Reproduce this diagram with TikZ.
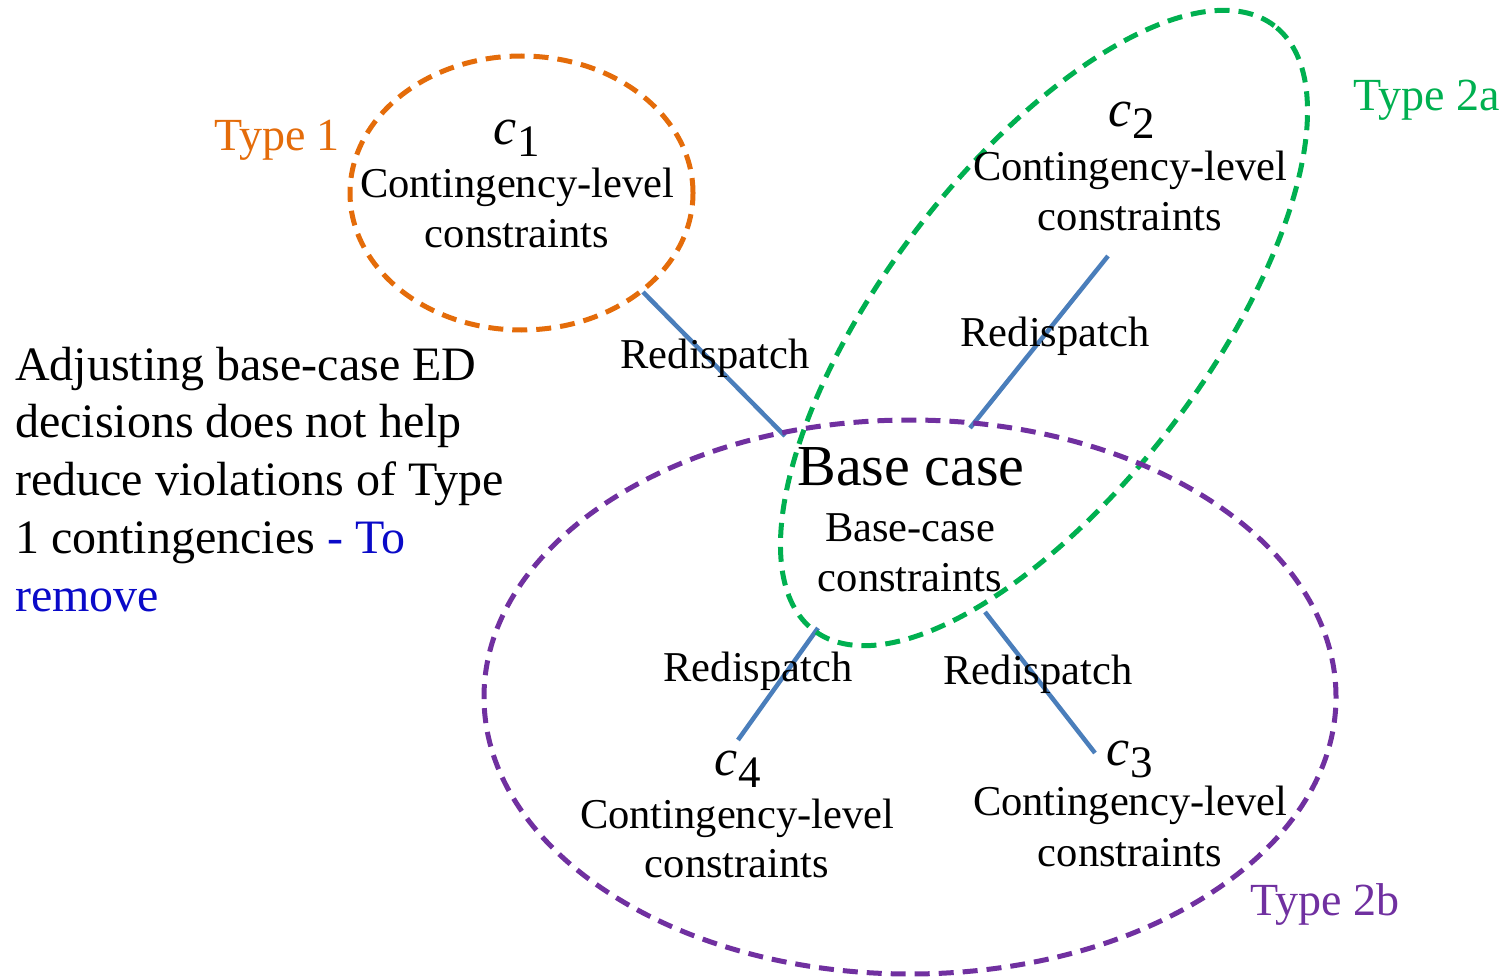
\documentclass[tikz,border=0pt]{standalone}
\usepackage{fontspec}
\setmainfont{Liberation Serif}
\definecolor{orng}{RGB}{228,108,10}
\definecolor{grn}{RGB}{0,176,80}
\definecolor{purp}{RGB}{112,48,160}
\definecolor{lineblue}{RGB}{74,126,187}
\definecolor{txtblue}{RGB}{10,10,200}
\begin{document}
\begin{tikzpicture}[x=1pt,y=-1pt,
  lbl/.style={inner sep=0pt, anchor=base, font=\fontsize{42.5}{50}\selectfont},
  bigl/.style={inner sep=0pt, anchor=base, font=\fontsize{58}{60}\selectfont},
  typel/.style={inner sep=0pt, anchor=base, font=\fontsize{46}{50}\selectfont},
  note/.style={inner sep=0pt, anchor=base west, font=\fontsize{48}{57}\selectfont},
  cvar/.style={inner sep=0pt, anchor=base, font=\fontsize{52}{52}\selectfont},
  conn/.style={draw=lineblue, line width=4.5pt},
  ring/.style={dash pattern=on 15pt off 9pt, line width=5pt}]
\useasboundingbox (0,0) rectangle (1510,979);
\newcommand{\cv}[1]{\textit{c}\kern1pt\raisebox{-12pt}{\fontsize{45}{45}\selectfont #1}}
% connector end points
\coordinate (e1a) at (643,292); \coordinate (e1b) at (785,436);
\coordinate (e2a) at (1108,256); \coordinate (e2b) at (970,428);
\coordinate (e4a) at (818,628); \coordinate (e4b) at (738,740);
\coordinate (e3a) at (985,612); \coordinate (e3b) at (1095,753);
\draw[conn] (e1a) -- (e1b);
\draw[conn] (e2a) -- (e2b);
\draw[conn] (e4a) -- (e4b);
\draw[conn] (e3a) -- (e3b);
% regions
\draw[ring, draw=orng] (521.5,193) ellipse [x radius=171.5pt, y radius=137pt];
\draw[ring, draw=grn, rotate around={52.7:(1044,328)}] (1044,328) ellipse [x radius=380pt, y radius=161pt];
\draw[ring, draw=purp] (910,697) ellipse [x radius=426pt, y radius=277pt];
% c1
\node[cvar] (c1) at (517,145) {\cv{1}};
\node[lbl] (c1a) at (517,197) {Contingency-level};
\node[lbl] (c1b) at (517,247) {constraints};
% c2
\node[cvar] (c2) at (1132,127) {\cv{2}};
\node[lbl] (c2a) at (1130,180) {Contingency-level};
\node[lbl] (c2b) at (1130,230) {constraints};
% c4
\node[cvar] (c4) at (738,775) {\cv{4}};
\node[lbl] (c4a) at (737,828) {Contingency-level};
\node[lbl] (c4b) at (737,877) {constraints};
% c3
\node[cvar] (c3) at (1130,765) {\cv{3}};
\node[lbl] (c3a) at (1130,815) {Contingency-level};
\node[lbl] (c3b) at (1130,866) {constraints};
% base case
\node[bigl] (bc) at (911,485) {Base case};
\node[lbl] (bca) at (910,541.5) {Base-case};
\node[lbl] (bcb) at (910,591.5) {constraints};
% redispatch labels
\node[lbl] (r1) at (715,368) {Redispatch};
\node[lbl] (r2) at (1055,346) {Redispatch};
\node[lbl] (r4) at (758,681) {Redispatch};
\node[lbl] (r3) at (1038,684) {Redispatch};
% type labels
\node[typel, text=orng] (t1) at (277,150) {Type 1};
\node[typel, text=grn] (t2a) at (1427,111) {Type 2a};
\node[typel, text=purp] (t2b) at (1325,915) {Type 2b};
% note
\node[note] (n1) at (15,380) {Adjusting base-case ED};
\node[note] (n2) at (15,437) {decisions does not help};
\node[note] (n3) at (15,495) {reduce violations of Type};
\node[note] (n4) at (15,553) {1 contingencies \textcolor{txtblue}{- To}};
\node[note, text=txtblue] (n5) at (15,611) {remove};
\end{tikzpicture}
\end{document}
